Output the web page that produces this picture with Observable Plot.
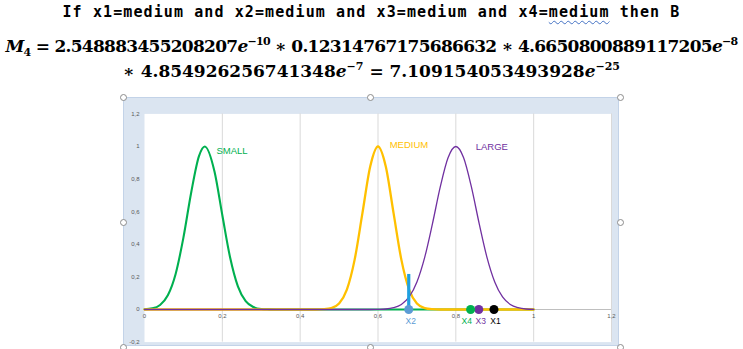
<!DOCTYPE html>
<html>
<head>
<meta charset="utf-8">
<script src="https://cdn.jsdelivr.net/npm/d3@7"></script>
<script src="https://cdn.jsdelivr.net/npm/@observablehq/plot@0.6"></script>
<style>
  html, body { margin: 0; padding: 0; background: #fff; width: 743px; height: 349px; overflow: hidden; position: relative; }
  .hdr { position: absolute; left: 0; width: 743px; text-align: center; white-space: nowrap; color: #000; }
  #title { top: 3px; font: bold 15px "DejaVu Sans Mono", monospace; }
  .sq { text-decoration: underline wavy #4472c4; text-decoration-thickness: 1px; text-underline-offset: 3px; }
  .f { font: bold 17px "DejaVu Serif", serif; }
  .f sup { font-size: 11px; vertical-align: 7px; line-height: 0; }
  .f sub { font-size: 11px; vertical-align: -4px; line-height: 0; }
  #f1 { top: 36px; }
  #f2 { top: 61px; }
  #frame { position: absolute; left: 123px; top: 97px; width: 496px; height: 249px; background: #dbe5f1; border: 1px solid #c3d3e8; box-sizing: border-box; }
  #chart { position: absolute; left: 0; top: 95px; }
  .hd { position: absolute; width: 7px; height: 7px; border-radius: 50%; border: 1px solid #8c8c8c; background: #fff; box-sizing: border-box; }
</style>
</head>
<body>
<div id="title" class="hdr">If x1=medium and x2=medium and x3=medium and x4=<span class="sq">medium</span> then B</div>
<div id="f1" class="hdr f"><i>M</i><sub>4</sub> = 2.548883455208207<i>e</i><sup>−10</sup> ∗ 0.12314767175686632 ∗ 4.6650800889117205<i>e</i><sup>−8</sup></div>
<div id="f2" class="hdr f">∗ 4.854926256741348<i>e</i><sup>−7</sup> = 7.109154053493928<i>e</i><sup>−25</sup></div>
<div id="frame"></div>
<div id="chart"></div>
<script>
// ---- data ----
const xTicks = [0, 0.2, 0.4, 0.6, 0.8, 1, 1.2];
const yTicks = [-0.2, 0, 0.2, 0.4, 0.6, 0.8, 1, 1.2];
const gridX = [0.2, 0.4, 0.6, 0.8, 1, 1.2];

const smallX = [0, 0.02, 0.04, 0.06, 0.08, 0.10, 0.12, 0.14, 0.155, 0.18, 0.20, 0.22, 0.24, 0.26, 0.28, 0.30, 0.32, 0.34, 1];
const smallY = [0.002, 0.007, 0.028, 0.087, 0.218, 0.441, 0.718, 0.941, 1, 0.845, 0.578, 0.319, 0.142, 0.051, 0.015, 0.003, 0.001, 0, 0];

const mediumX = [0, 0.44, 0.46, 0.48, 0.50, 0.52, 0.54, 0.56, 0.58, 0.60, 0.62, 0.64, 0.66, 0.68, 0.70, 0.72, 0.74, 0.76, 1];
const mediumY = [0, 0, 0.002, 0.009, 0.037, 0.122, 0.306, 0.591, 0.877, 1, 0.877, 0.591, 0.306, 0.122, 0.037, 0.009, 0.002, 0, 0];

const largeX = [0, 0.58, 0.60, 0.62, 0.64, 0.66, 0.68, 0.70, 0.72, 0.74, 0.76, 0.78, 0.80, 0.82, 0.84, 0.86, 0.88, 0.90, 0.92, 0.94, 0.96, 0.98, 1.0];
const largeY = [0, 0, 0.001, 0.003, 0.011, 0.031, 0.077, 0.169, 0.320, 0.527, 0.752, 0.931, 1, 0.931, 0.752, 0.527, 0.320, 0.169, 0.077, 0.031, 0.011, 0.003, 0.001];

const setNames = ["SMALL", "MEDIUM", "LARGE"];
const setColors = ["#00b050", "#ffc000", "#7030a0"];
const setLabelX = [0.185, 0.63, 0.851];
const setLabelY = [0.975, 1.012, 1.0];

const pointNames = ["X1", "X2", "X3", "X4"];
const pointX = [0.898, 0.679, 0.859, 0.838];
const pointColors = ["#000000", "#5b9bd5", "#7030a0", "#00b050"];
const pointLabelX = [0.902, 0.684, 0.864, 0.828];
const x2Degree = 0.215;

// ---- build tables ----
const toRows = (xs, ys) => xs.map((x, i) => ({x, y: ys[i]}));
const small = toRows(smallX, smallY);
const medium = toRows(mediumX, mediumY);
const large = toRows(largeX, largeY);
const setLabels = setNames.map((n, i) => ({n, x: setLabelX[i], y: setLabelY[i], c: setColors[i]}));
const points = pointNames.map((n, i) => ({n, x: pointX[i], lx: pointLabelX[i], c: pointColors[i]}));
const fmt = d => String(d).replace(".", ",");

const chart = Plot.plot({
  width: 743,
  height: 254,
  marginLeft: 144,
  marginRight: 132,
  marginTop: 18.4,
  marginBottom: 7.4,
  style: {background: "transparent", fontFamily: "Liberation Sans, Arial, sans-serif"},
  x: {domain: [0, 1.2], axis: null},
  y: {domain: [-0.2, 1.2], axis: null},
  marks: [
    Plot.frame({fill: "white", stroke: "none"}),
    Plot.ruleX(gridX, {stroke: "#d9d9d9", strokeWidth: 1}),
    Plot.ruleY([0], {stroke: "#bfbfbf", strokeWidth: 1}),
    Plot.text(yTicks, {x: 0, y: d => d, dx: -5, textAnchor: "end", text: fmt, fontSize: 6, fill: "#595959"}),
    Plot.text(xTicks, {x: d => d, y: 0, dy: 7, text: fmt, fontSize: 6, fill: "#595959"}),
    Plot.line(small, {x: "x", y: "y", stroke: setColors[0], strokeWidth: 2.1, curve: "monotone-x"}),
    Plot.line(medium, {x: "x", y: "y", stroke: setColors[1], strokeWidth: 2.3, curve: "monotone-x"}),
    Plot.line(large, {x: "x", y: "y", stroke: setColors[2], strokeWidth: 1.3, curve: "monotone-x"}),
    Plot.text(setLabels, {x: "x", y: "y", text: "n", fill: "c", textAnchor: "start", fontSize: 9.5}),
    Plot.ruleX([pointX[1]], {y1: 0, y2: x2Degree, stroke: "#1fa0e0", strokeWidth: 3.2}),
    Plot.dot(points, {x: "x", y: 0, fill: "c", r: 4.5, stroke: "none"}),
    Plot.text(points, {x: "lx", y: -0.075, text: "n", fill: "c", fontSize: 8.5})
  ]
});
document.getElementById("chart").appendChild(chart);

// resize handles of the chart frame (decoration)
[[123,97],[370,97],[620,97],[123,222],[620,222],[123,347],[370,347],[620,347]].forEach(([x,y]) => {
  const d = document.createElement("div");
  d.className = "hd";
  d.style.left = (x - 3.5) + "px";
  d.style.top = (y - 3.5) + "px";
  document.body.appendChild(d);
});

// fit header lines to the measured widths
function fit(id, target) {
  const el = document.getElementById(id);
  const span = document.createElement("span");
  while (el.firstChild) span.appendChild(el.firstChild);
  el.appendChild(span);
  const w = span.getBoundingClientRect().width;
  const n = span.textContent.length;
  el.style.letterSpacing = ((target - w) / n) + "px";
}
fit("title", 618);
fit("f1", 732);
fit("f2", 497);
</script>
</body>
</html>
